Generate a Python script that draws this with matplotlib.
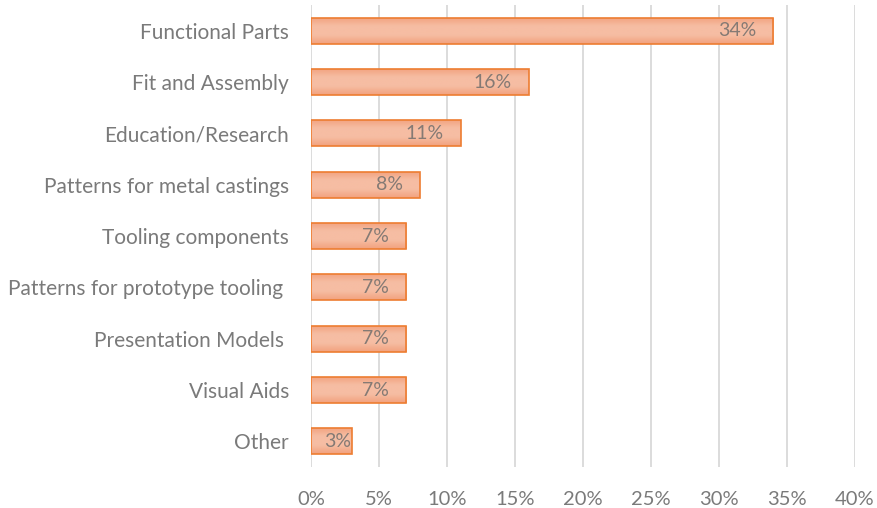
import matplotlib
matplotlib.use("Agg")
import numpy as np
import matplotlib.pyplot as plt
from matplotlib.colors import LinearSegmentedColormap
from matplotlib.ticker import FuncFormatter

categories = [
    "Functional Parts",
    "Fit and Assembly",
    "Education/Research",
    "Patterns for metal castings",
    "Tooling components",
    "Patterns for prototype tooling ",
    "Presentation Models ",
    "Visual Aids",
    "Other",
]
values = [34, 16, 11, 8, 7, 7, 7, 7, 3]
xticks = [0, 5, 10, 15, 20, 25, 30, 35, 40]

plt.rcParams["font.family"] = ["Lato", "DejaVu Sans"]
text_color = "#7a7a7a"

fig = plt.figure(figsize=(8.78, 5.08), dpi=100)
ax = fig.add_axes([0.3542, 1 - 467 / 508, 0.6196, 462 / 508])

ypos = list(range(len(categories)))
bars = ax.barh(ypos, values, height=0.51, color="none", edgecolor="#ED7D31",
               linewidth=1.2, zorder=4)

# soft vertical gradient fill inside each bar
grad_cmap = LinearSegmentedColormap.from_list(
    "bar_grad", ["#F2A27E", "#F6BDA3", "#F6BDA3", "#F2A27E"])
grad = np.linspace(0, 1, 64).reshape(-1, 1)
for b in bars:
    x0, y0 = b.get_x(), b.get_y()
    w, h = b.get_width(), b.get_height()
    im = ax.imshow(grad, cmap=grad_cmap, aspect="auto",
                   extent=[x0, x0 + w, y0 + h, y0], zorder=3,
                   interpolation="bilinear")
    im.set_clip_path(b)

ax.set_ylim(len(categories) - 0.5, -0.5)
ax.set_xlim(0, 40)

# value labels sit inside the bar end; short bars get less inset
px_per_unit = ax.get_window_extent().width / 40
for y, v in zip(ypos, values):
    bar_px = v * px_per_unit
    gap = min(17, max(0, bar_px - 40))
    ax.annotate(f"{v}%", xy=(v, y), xytext=(-gap * 72 / fig.dpi, 0),
                textcoords="offset points", ha="right", va="center",
                fontsize=14, color="#857a74", zorder=5)

ax.set_yticks(ypos)
ax.set_yticklabels(categories, fontsize=15, color=text_color)
ax.set_xticks(xticks)
ax.xaxis.set_major_formatter(FuncFormatter(lambda x, _: f"{x:.0f}%"))
ax.tick_params(axis="x", labelsize=14.5, colors=text_color, length=0, pad=17)
ax.tick_params(axis="y", length=0, pad=22 * 72 / 100)
ax.grid(axis="x", color="#d9d9d9", linewidth=1.3, zorder=0)
for s in ax.spines.values():
    s.set_visible(False)

fig.savefig("out.png", dpi=100)
